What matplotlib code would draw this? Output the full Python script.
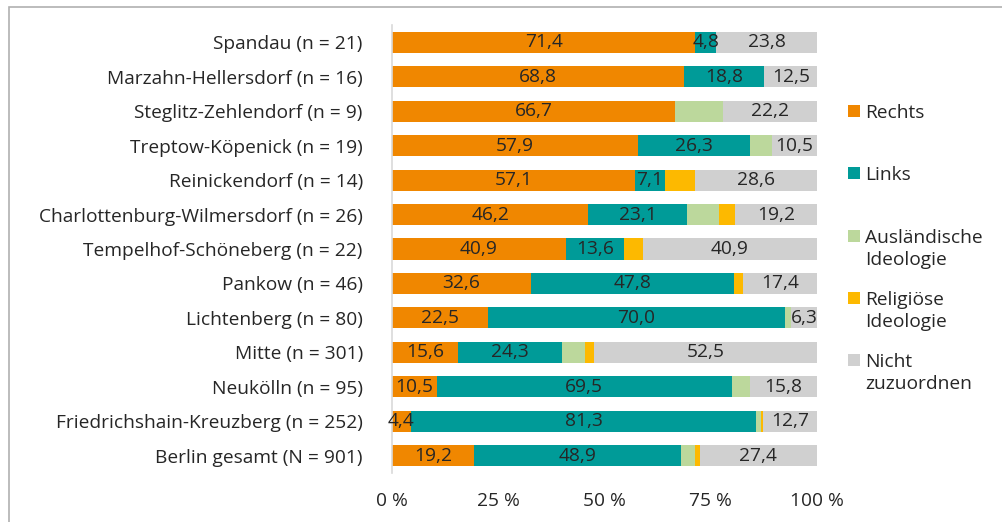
import numpy as np
import matplotlib.pyplot as plt
from matplotlib.patches import Rectangle

plt.rcParams['font.family'] = ['Open Sans', 'DejaVu Sans']

# Bezirke, von oben nach unten
bezirke = ["Spandau (n = 21)", "Marzahn-Hellersdorf (n = 16)", "Steglitz-Zehlendorf (n = 9)",
           "Treptow-Köpenick (n = 19)", "Reinickendorf (n = 14)",
           "Charlottenburg-Wilmersdorf (n = 26)", "Tempelhof-Schöneberg (n = 22)",
           "Pankow (n = 46)", "Lichtenberg (n = 80)", "Mitte (n = 301)", "Neukölln (n = 95)",
           "Friedrichshain-Kreuzberg (n = 252)", "Berlin gesamt (N = 901)"]

# Anteile in %
rechts = [71.4, 68.8, 66.7, 57.9, 57.1, 46.2, 40.9, 32.6, 22.5, 15.6, 10.5, 4.4, 19.2]
links = [4.8, 18.8, 0.0, 26.3, 7.1, 23.1, 13.6, 47.8, 70.0, 24.3, 69.5, 81.3, 48.9]
auslaendisch = [0.0, 0.0, 11.1, 5.3, 0.0, 7.7, 0.0, 0.0, 1.3, 5.6, 4.2, 1.2, 3.1]
religioes = [0.0, 0.0, 0.0, 0.0, 7.1, 3.8, 4.5, 2.2, 0.0, 2.0, 0.0, 0.4, 1.3]
nicht = [23.8, 12.5, 22.2, 10.5, 28.6, 19.2, 40.9, 17.4, 6.3, 52.5, 15.8, 12.7, 27.4]

serien = [("Rechts", rechts, "#F08700", True),
          ("Links", links, "#009B98", True),
          ("Ausländische\nIdeologie", auslaendisch, "#BCD89C", False),
          ("Religiöse\nIdeologie", religioes, "#FDB900", False),
          ("Nicht\nzuzuordnen", nicht, "#D0D0D0", True)]

txt = "#262626"
fs = 13.8
fig = plt.figure(figsize=[10.02, 5.22], dpi=100)
ax = fig.add_axes([0.3912, 0.0939, 0.4242, 0.8582])

y = np.arange(len(bezirke))
left = np.zeros(len(bezirke))
for name, vals, col, beschriften in serien:
    vals = np.array(vals)
    ax.barh(y, vals, left=left, height=0.61, color=col, linewidth=0)
    if beschriften:
        for yi, l, v in zip(y, left, vals):
            if v > 0:
                ax.text(l + v / 2, yi, ('%.1f' % v).replace('.', ','), ha='center', va='center',
                        fontsize=fs, color=txt)
    left += vals

ax.set_xlim(0, 100)
ax.set_ylim(len(bezirke) - 0.5, -0.5)
ax.set_yticks(y)
ax.set_yticklabels(bezirke, fontsize=fs, color=txt)
ax.set_xticks([0, 25, 50, 75, 100])
ax.set_xticklabels(['0 %', '25 %', '50 %', '75 %', '100 %'], fontsize=fs, color=txt)
ax.tick_params(axis='y', length=0, pad=21)
ax.tick_params(axis='x', length=0, pad=14)
for s in ['top', 'right', 'bottom']:
    ax.spines[s].set_visible(False)
ax.spines['left'].set_color('#D9D9D9')
ax.spines['left'].set_linewidth(1.2)

# Legende rechts neben dem Diagramm
leg_y = [111, 173, 236, 298, 360]
for (name, vals, col, _), yp in zip(serien, leg_y):
    yf = 1 - yp / 522
    fig.patches.append(Rectangle((848 / 1002, yf - 6 / 522), 12 / 1002, 12 / 522,
                                 transform=fig.transFigure, color=col, linewidth=0))
    fig.text(865 / 1002, yf + 7 / 522, name, ha='left', va='top', fontsize=fs,
             color=txt, linespacing=1.3)

# Rahmen
fig.patches.append(Rectangle((9 / 1002, -0.1), 1.2, 1.1 - 7 / 522, transform=fig.transFigure,
                             fill=False, edgecolor='#B0B0B0', linewidth=1.2))

plt.savefig('out.png', dpi=100)
